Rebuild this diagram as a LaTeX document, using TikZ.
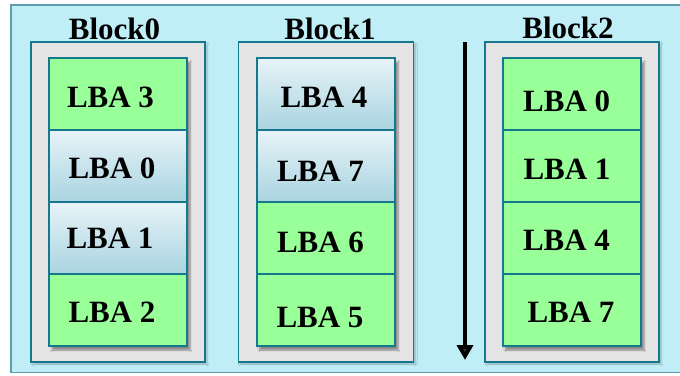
\documentclass[tikz,border=0pt]{standalone}
\usepackage{fontspec}
\setmainfont{Liberation Serif}
\usetikzlibrary{arrows.meta,shadows,shadows.blur}
\definecolor{panelbg}{RGB}{192,238,246}
\definecolor{panelrim}{RGB}{90,158,176}
\definecolor{rimteal}{RGB}{22,120,140}
\definecolor{blockgrey}{RGB}{228,228,228}
\definecolor{livegreen}{RGB}{153,255,153}
\definecolor{staletop}{RGB}{232,243,248}
\definecolor{stalebot}{RGB}{168,212,224}
\tikzset{
  blockbox/.style={draw=rimteal, line width=1.6pt, fill=blockgrey,
    blur shadow={shadow xshift=2pt, shadow yshift=-2pt, shadow blur steps=5, shadow opacity=25}},
  stackbox/.style={fill=blockgrey,
    blur shadow={shadow xshift=3pt, shadow yshift=-4pt, shadow blur steps=6, shadow opacity=40}},
  cellbase/.style={draw=rimteal, line width=1.6pt, anchor=north west,
    minimum height=72pt, inner sep=0pt, outer sep=0pt},
  live/.style={cellbase, fill=livegreen},
  stale/.style={cellbase, top color=staletop, bottom color=stalebot},
  lba/.style={anchor=base, inner sep=0pt, font=\fontsize{31}{31}\selectfont\bfseries},
  blocktitle/.style={anchor=base, inner sep=0pt, font=\fontsize{31}{31}\selectfont\bfseries},
}
\begin{document}
\begin{tikzpicture}[x=1pt, y=-1pt]
\useasboundingbox (0,0) rectangle (680,375);
\clip (0,0) rectangle (680,375);

% panel
\fill[white] (0,0) rectangle (680,375);
\draw[panelrim, fill=panelbg, line width=1.5pt] (11,5) rectangle (700,372.5);

% erase blocks
\draw[blockbox] (31,42) rectangle (205,362);
\draw[blockbox] (238.3,42) rectangle (413.3,362);
\draw[blockbox] (485,42) rectangle (659,362);

% page stacks (shadow only)
\path[stackbox] (49,58) rectangle (187,346);
\path[stackbox] (256.7,58) rectangle (395,346);
\path[stackbox] (502.7,58) rectangle (641,346);

% Block0 pages
\node[live,  minimum width=138pt] (a0) at (49,58)  {};
\node[stale, minimum width=138pt] (a1) at (49,130) {};
\node[stale, minimum width=138pt] (a2) at (49,202) {};
\node[live,  minimum width=138pt] (a3) at (49,274) {};

% Block1 pages
\node[stale, minimum width=138.3pt] (b0) at (256.7,58)  {};
\node[stale, minimum width=138.3pt] (b1) at (256.7,130) {};
\node[live,  minimum width=138.3pt] (b2) at (256.7,202) {};
\node[live,  minimum width=138.3pt] (b3) at (256.7,274) {};

% Block2 pages
\node[live, minimum width=138.3pt] (c0) at (502.7,58)  {};
\node[live, minimum width=138.3pt] (c1) at (502.7,130) {};
\node[live, minimum width=138.3pt] (c2) at (502.7,202) {};
\node[live, minimum width=138.3pt] (c3) at (502.7,274) {};

% block titles
\node[blocktitle] (h0) at (114.5,39) {Block0};
\node[blocktitle] (h1) at (330,39)   {Block1};
\node[blocktitle] (h2) at (568,38)   {Block2};

% page labels
\node[lba] (ta0) at (110.5,107)  {LBA 3};
\node[lba] (ta1) at (112,178)    {LBA 0};
\node[lba] (ta2) at (110,248)    {LBA 1};
\node[lba] (ta3) at (112,322.7)  {LBA 2};

\node[lba] (tb0) at (324,107)    {LBA 4};
\node[lba] (tb1) at (320.5,181.7){LBA 7};
\node[lba] (tb2) at (320.5,252.7){LBA 6};
\node[lba] (tb3) at (320,327.7)  {LBA 5};

\node[lba] (tc0) at (566.7,111)  {LBA 0};
\node[lba] (tc1) at (567,179)    {LBA 1};
\node[lba] (tc2) at (566.5,250.7){LBA 4};
\node[lba] (tc3) at (571,322.7)  {LBA 7};

% write direction
\coordinate (wtop) at (465,42);
\coordinate (wend) at (465,360);
\draw[line width=4pt, -{Triangle[width=16pt,length=15pt]}] (wtop) -- (wend);
\end{tikzpicture}
\end{document}
